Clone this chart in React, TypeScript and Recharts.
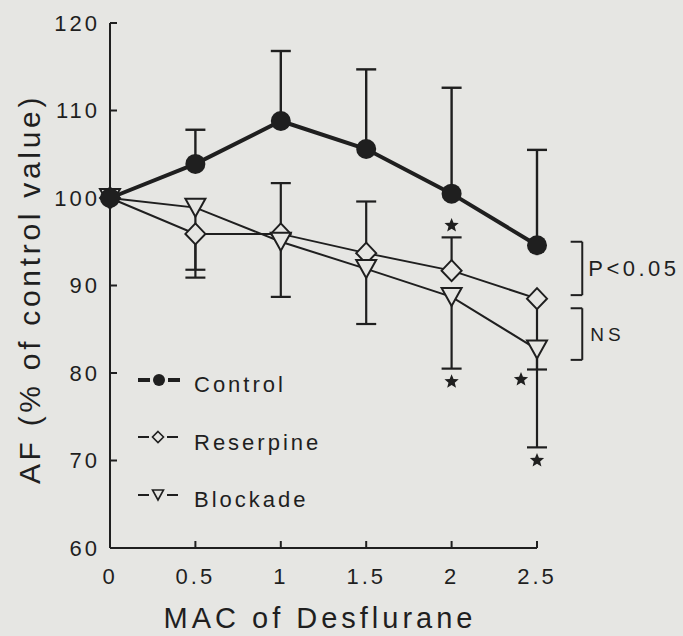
import React from "react"
import { LineChart, Line, XAxis, YAxis, ReferenceLine, ReferenceDot, Customized, Label } from "recharts"

const INK = "#1f1f1f"
const BG = "#e6e6e3"
const FONT = "'Liberation Sans', Arial, Helvetica, sans-serif"

const doses = [0, 0.5, 1, 1.5, 2, 2.5]
const xTicks = [0, 0.5, 1, 1.5, 2, 2.5]
const yTicks = [60, 70, 80, 90, 100, 110, 120]

const control = [100, 103.9, 108.8, 105.6, 100.5, 94.6]
const controlUp = [0, 3.9, 8, 9.1, 12.1, 10.9]

const reserpine = [100, 95.9, 95.9, 93.7, 91.7, 88.5]
const reserpineUp = [0, 0, 5.8, 5.9, 3.8, 0]
const reserpineDown = [0, 5.0, 0, 0, 0, 8.1]

const blockade = [100, 98.9, 95.0, 91.9, 88.7, 82.7]
const blockadeDown = [0, 7.1, 6.3, 6.3, 8.2, 11.2]

// significance stars sit at the end of these error bars
const stars = [
  { series: "reserpine", i: 4, side: "above" },
  { series: "blockade", i: 4, side: "below" },
  { series: "reserpine", i: 5, side: "left" },
  { series: "blockade", i: 5, side: "below" },
]

const brackets = [
  { label: "P<0.05", top: 95.0, bottom: 88.9 },
  { label: "NS", top: 87.4, bottom: 81.5 },
]

const rows = doses.map((x, i) => ({
  x,
  control: control[i],
  reserpine: reserpine[i],
  blockade: blockade[i],
}))

type ErrBar = { series: string; i: number; data: { x: number; y: number }[] }

function buildBars(series: string, means: number[], errs: number[], sign: number): ErrBar[] {
  const out: ErrBar[] = []
  errs.forEach((e, i) => {
    if (!e) return
    out.push({
      series,
      i,
      data: [
        { x: doses[i], y: means[i] },
        { x: doses[i], y: means[i] + sign * e },
      ],
    })
  })
  return out
}

function starPath(cx: number, cy: number, R = 7.5, r = 3.3) {
  const pts: string[] = []
  for (let k = 0; k < 10; k++) {
    const a = -Math.PI / 2 + (k * Math.PI) / 5
    const rad = k % 2 === 0 ? R : r
    pts.push(`${cx + rad * Math.cos(a)},${cy + rad * Math.sin(a)}`)
  }
  return pts.join(" ")
}

function capDot(bar: ErrBar, sw: number) {
  return (props: any) => {
    const { cx, cy, index } = props
    if (index !== 1 || cx == null) return <g key={`cap-${index}`} />
    const st = stars.find((s) => s.series === bar.series && s.i === bar.i)
    let sx = cx
    let sy = cy
    if (st?.side === "above") sy = cy - 12
    if (st?.side === "below") sy = cy + 13
    if (st?.side === "left") {
      sx = cx - 16
      sy = cy + 10
    }
    return (
      <g key={`cap-${index}`}>
        <line x1={cx - 10} x2={cx + 10} y1={cy} y2={cy} stroke={INK} strokeWidth={sw} />
        {st && <polygon points={starPath(sx, sy)} fill={INK} />}
      </g>
    )
  }
}

const circleDot = (props: any) => {
  const { cx, cy, index } = props
  if (cx == null) return <g key={index} />
  return <circle key={index} cx={cx} cy={cy} r={10} fill={INK} />
}

const diamondDot = (props: any) => {
  const { cx, cy, index } = props
  if (cx == null) return <g key={index} />
  const pts = `${cx},${cy - 10.5} ${cx + 10},${cy} ${cx},${cy + 10.5} ${cx - 10},${cy}`
  return <polygon key={index} points={pts} fill={BG} stroke={INK} strokeWidth={2} />
}

const triangleDot = (props: any) => {
  const { cx, cy, index } = props
  if (cx == null) return <g key={index} />
  const pts = `${cx - 10},${cy - 9} ${cx + 10},${cy - 9} ${cx},${cy + 9}`
  return <polygon key={index} points={pts} fill={BG} stroke={INK} strokeWidth={2} strokeLinejoin="miter" />
}

function LegendBox() {
  const txt = { fontFamily: FONT, fontSize: 22, fill: INK, letterSpacing: 3 }
  return (
    <g>
      <line x1={138} x2={150} y1={380} y2={380} stroke={INK} strokeWidth={4} />
      <circle cx={159} cy={380} r={6} fill={INK} />
      <line x1={168} x2={180} y1={380} y2={380} stroke={INK} strokeWidth={4} />
      <text x={194} y={392} {...txt}>Control</text>

      <line x1={138} x2={149} y1={437} y2={437} stroke={INK} strokeWidth={2} />
      <polygon points="158,431.5 163.5,437 158,442.5 152.5,437" fill={BG} stroke={INK} strokeWidth={1.6} />
      <line x1={167} x2={178} y1={437} y2={437} stroke={INK} strokeWidth={2} />
      <text x={194} y={450} {...txt}>Reserpine</text>

      <line x1={138} x2={149} y1={495} y2={495} stroke={INK} strokeWidth={2} />
      <polygon points="152.5,490 163.5,490 158,500" fill={BG} stroke={INK} strokeWidth={1.6} />
      <line x1={167} x2={178} y1={495} y2={495} stroke={INK} strokeWidth={2} />
      <text x={194} y={507} {...txt}>Blockade</text>
    </g>
  )
}

const tickStyle = { fill: INK, fontSize: 22, fontFamily: FONT, letterSpacing: 3 }

export default function App() {
  const resBars = [...buildBars("reserpine", reserpine, reserpineUp, 1), ...buildBars("reserpine", reserpine, reserpineDown, -1)]
  const blkBars = buildBars("blockade", blockade, blockadeDown, -1)
  const ctlBars = buildBars("control", control, controlUp, 1)

  const renderBars = (bars: ErrBar[], sw: number) =>
    bars.map((b, k) => (
      <Line
        key={`${b.series}-${b.i}-${k}`}
        data={b.data}
        dataKey="y"
        type="linear"
        stroke={INK}
        strokeWidth={sw}
        dot={capDot(b, sw)}
        activeDot={false}
        legendType="none"
        isAnimationActive={false}
      />
    ))

  return (
    <div style={{ width: 683, height: 636, background: BG, position: "absolute", left: 0, top: 0 }}>
      <style>{`body{margin:0}`}</style>
      <LineChart width={683} height={636} data={rows} margin={{ top: 23, right: 146, bottom: 0, left: 0 }}>
        <XAxis
          type="number"
          dataKey="x"
          domain={[0, 2.5]}
          ticks={xTicks}
          interval={0}
          height={88}
          tickSize={-7}
          tickMargin={27}
          axisLine={{ stroke: INK, strokeWidth: 2 }}
          tickLine={{ stroke: INK, strokeWidth: 2 }}
          tick={tickStyle}
        >
          <Label
            content={() => (
              <text x={320} y={628} textAnchor="middle" fontFamily={FONT} fontSize={29} fill={INK} letterSpacing={4}>
                MAC of Desflurane
              </text>
            )}
          />
        </XAxis>
        <YAxis
          type="number"
          domain={[60, 120]}
          ticks={yTicks}
          interval={0}
          width={110}
          tickSize={-7}
          tickMargin={17}
          axisLine={{ stroke: INK, strokeWidth: 2 }}
          tickLine={{ stroke: INK, strokeWidth: 2 }}
          tick={tickStyle}
        >
          <Label
            content={() => (
              <text
                x={40}
                y={289}
                textAnchor="middle"
                transform="rotate(-90, 40, 289)"
                fontFamily={FONT}
                fontSize={30}
                fill={INK}
                letterSpacing={3.7}
              >
                AF (% of control value)
              </text>
            )}
          />
        </YAxis>

        <Line dataKey="reserpine" type="linear" stroke={INK} strokeWidth={2} dot={false} activeDot={false} isAnimationActive={false} />
        {renderBars(resBars, 2.2)}
        <Line dataKey="reserpine" type="linear" stroke="none" dot={diamondDot} activeDot={false} isAnimationActive={false} />

        <Line dataKey="blockade" type="linear" stroke={INK} strokeWidth={2} dot={false} activeDot={false} isAnimationActive={false} />
        {renderBars(blkBars, 2.2)}
        <Line dataKey="blockade" type="linear" stroke="none" dot={triangleDot} activeDot={false} isAnimationActive={false} />

        <Line dataKey="control" type="linear" stroke={INK} strokeWidth={4} dot={false} activeDot={false} isAnimationActive={false} />
        {renderBars(ctlBars, 2.4)}
        <Line dataKey="control" type="linear" stroke="none" dot={circleDot} activeDot={false} isAnimationActive={false} />

        {brackets.map((b) => (
          <React.Fragment key={b.label}>
            <ReferenceLine segment={[{ x: 2.697, y: b.top }, { x: 2.765, y: b.top }]} stroke={INK} strokeWidth={2} ifOverflow="visible" />
            <ReferenceLine segment={[{ x: 2.765, y: b.top }, { x: 2.765, y: b.bottom }]} stroke={INK} strokeWidth={2} ifOverflow="visible" />
            <ReferenceLine segment={[{ x: 2.697, y: b.bottom }, { x: 2.765, y: b.bottom }]} stroke={INK} strokeWidth={2} ifOverflow="visible" />
            <ReferenceDot
              x={2.765}
              y={(b.top + b.bottom) / 2}
              r={0}
              fill="none"
              stroke="none"
              ifOverflow="visible"
              label={{
                value: b.label,
                position: "right",
                offset: b.label === "NS" ? 8 : 6,
                fill: INK,
                fontFamily: FONT,
                fontSize: b.label === "NS" ? 19 : 22,
                letterSpacing: b.label === "NS" ? 4 : 3.5,
              }}
            />
          </React.Fragment>
        ))}

        <Customized component={<LegendBox />} />
      </LineChart>
    </div>
  )
}
